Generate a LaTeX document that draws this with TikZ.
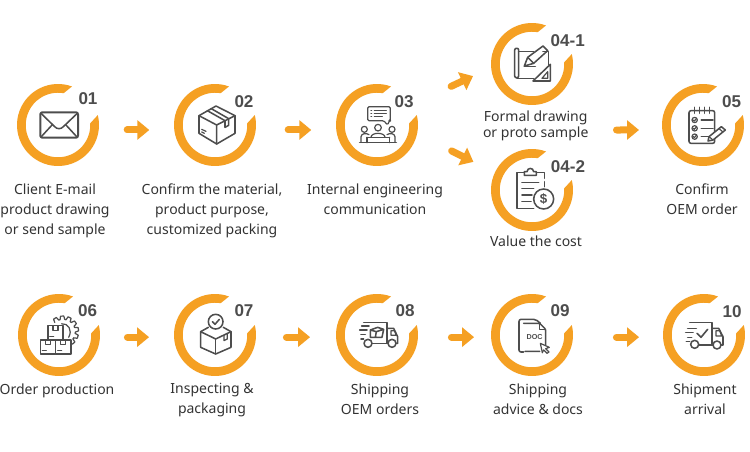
\documentclass[tikz,border=0pt]{standalone}
\usepackage{fontspec}
\setmainfont{Noto Sans}
\newfontfamily\numfont{Liberation Sans}[BoldFont={Liberation Sans Bold}]
\usetikzlibrary{arrows.meta,calc}
\definecolor{ringc}{HTML}{F5A023}
\definecolor{iconc}{HTML}{4D4D4D}
\definecolor{textc}{HTML}{333333}
\tikzset{
  ringnode/.style={circle,minimum size=61.5pt,inner sep=0pt,outer sep=0pt},
  numlabel/.style={font=\numfont\bfseries\fontsize{12.8}{13}\selectfont,text=iconc,inner sep=0pt},
  caption/.style={font=\fontsize{10.5}{15}\selectfont,text=textc,align=center,inner sep=0pt},
  captiontight/.style={font=\fontsize{10.5}{12}\selectfont,text=textc,align=center,inner sep=0pt},
  blockarrow/.style={draw=ringc,line width=5.25pt,line cap=round,-{Triangle[length=9pt,width=14.25pt,fill=ringc]}},
  icon/.style={draw=iconc,line width=1.15pt,line join=round,line cap=round},
  thinicon/.style={icon,line width=.9pt},
}
\newcommand{\ringat}[1]{%
  \fill[ringc,shift={(#1.center)}] (70:30.75pt) arc[start angle=70,end angle=374,radius=30.75pt]
    -- (363:24.2pt) arc[start angle=363,end angle=80,radius=24.2pt] -- cycle;}
\newcommand{\iconframe}[4]{%
  \begin{scope}[shift={(#1.center)},x=.25pt,y=-.25pt,shift={(-#2,-#3)}]#4\end{scope}}
\newcommand{\arw}[6]{%
  \draw[blockarrow,shorten <=#5*.75pt,shorten >=#6*.75pt] (#1.#3) -- (#2.#4);}
\begin{document}
\begin{tikzpicture}[x=.75pt,y=.75pt]
\useasboundingbox[fill=white] (0,0) rectangle (750,451);
% rings
\node[ringnode] (r01) at (58,326) {};
\node[ringnode] (r02) at (215,326) {};
\node[ringnode] (r03) at (377,326) {};
\node[ringnode] (r041) at (532,387) {};
\node[ringnode] (r042) at (532,261) {};
\node[ringnode] (r05) at (703,326) {};
\node[ringnode] (r06) at (59,116) {};
\node[ringnode] (r07) at (215,116) {};
\node[ringnode] (r08) at (377,116) {};
\node[ringnode] (r09) at (532,116) {};
\node[ringnode] (r10) at (704,116) {};
\foreach \n in {r01,r02,r03,r041,r042,r05,r06,r07,r08,r09,r10} {\ringat{\n}}
% numbers
\node[numlabel] (n01) at (88,352) {01};
\node[numlabel] (n02) at (244,349) {02};
\node[numlabel] (n03) at (404,349) {03};
\node[numlabel] (n041) at (567.7,410) {04-1};
\node[numlabel] (n042) at (568,284) {04-2};
\node[numlabel] (n05) at (731.7,349) {05};
\node[numlabel] (n06) at (87.7,140) {06};
\node[numlabel] (n07) at (244,140) {07};
\node[numlabel] (n08) at (405,140) {08};
\node[numlabel] (n09) at (560,140) {09};
\node[numlabel] (n10) at (732,139) {10};
% captions
\node[caption] (t01) at (55,240.5) {Client E-mail\\product drawing\\or send sample};
\node[caption] (t02) at (212,240.5) {Confirm the material,\\product purpose,\\customized packing};
\node[caption] (t03) at (375,252) {Internal engineering\\communication};
\node[captiontight] (t041) at (535.7,325) {Formal drawing\\or proto sample};
\node[caption] (t042) at (536,210) {Value the cost};
\node[caption] (t05) at (702,252) {Confirm\\OEM order};
\node[caption] (t06) at (57,60) {Order production};
\node[caption] (t07) at (212,50.5) {Inspecting \&\\packaging};
\node[caption] (t08) at (380,52) {Shipping\\OEM orders};
\node[caption] (t09) at (538,52) {Shipping\\advice \& docs};
\node[caption] (t10) at (705,52) {Shipment\\arrival};
% connectors
\coordinate (m04) at (616.5,321);
\arw{r01}{r02}{-7}{187}{28.5}{25}
\arw{r02}{r03}{-7}{187}{32.5}{25}
\arw{r03}{r041}{30}{185}{42.7}{20}
\arw{r03}{r042}{-12}{155}{38.7}{24}
\draw[blockarrow,shorten >=23.3*.75pt] (m04) -- (r05.187);
\arw{r06}{r07}{-3}{183}{27.5}{25}
\arw{r07}{r08}{-3}{183}{30.5}{26}
\arw{r08}{r09}{-3}{183}{33.5}{17}
\arw{r09}{r10}{-3}{183}{43.5}{24}
% icon 01
\iconframe{r01}{175}{165}{
  \draw[icon,line width=1.5pt,rounded corners=1.5pt] (122,127) rectangle (235,203);
  \draw[icon] (124,130) -- (165,170) .. controls (172,178) and (184,178) .. (191,170) -- (233,130);
  \draw[icon] (124,201) -- (158,164) (232,201) -- (198,164);
}
% icon 02
\iconframe{r02}{645}{165}{
  \draw[icon] (648,108) -- (705,137) -- (705,190) -- (650,222) -- (597,190) -- (597,137) -- cycle;
  \draw[icon] (597,137) -- (650,165) -- (705,137) (650,165) -- (650,222);
  \draw[icon] (622,122) -- (675,152) -- (675,172) -- (686,166) -- (686,146) -- (634,116);
  \draw[thinicon] (605,178) -- (618,184) (605,186) -- (613,190);
}
% icon 03
\iconframe{r03}{230}{375}{
  \draw[thinicon,rounded corners=1pt] (202,320) -- (270,320) -- (270,362) -- (267,362) -- (262,375) -- (250,362) -- (202,362) -- cycle;
  \draw[thinicon] (212,332) -- (214,332) (222,332) -- (258,332) (212,341) -- (214,341) (222,341) -- (258,341) (212,350) -- (214,350) (222,350) -- (246,350);
  \draw[thinicon] (192,388) circle (9) (233,383) circle (10) (275,388) circle (9);
  \draw[thinicon] (182,426) -- (182,410) .. controls (183,400) and (198,398) .. (206,404);
  \draw[thinicon] (284,426) -- (284,410) .. controls (283,400) and (268,398) .. (260,404);
  \draw[thinicon] (212,412) .. controls (212,396) and (254,396) .. (254,412);
  \draw[thinicon] (200,412) -- (268,412) (200,412) -- (200,428) (268,412) -- (268,428);
  \draw[icon] (178,428) -- (288,428);
}
% icon 04-1
\iconframe{r041}{695}{192}{
  \draw[icon] (655,150) .. controls (655,143) and (643,143) .. (643,150) -- (643,228) .. controls (643,235) and (655,235) .. (655,228) -- (655,150);
  \draw[icon] (655,155) -- (700,155) (728,155) -- (745,155) -- (745,195);
  \draw[icon] (650,235) -- (700,235);
  \draw[icon] (672,198) -- (682,172) -- (728,138) -- (742,152) -- (700,190) -- cycle;
  \draw[icon] (682,172) -- (700,190);
  \draw[icon] (672,200) -- (705,200);
  \draw[icon,fill=white] (698,243) -- (750,243) -- (750,193) -- cycle;
  \draw[thinicon] (725,235) -- (742,235) -- (742,215) -- cycle;
}
% icon 04-2
\iconframe{r042}{695}{570}{
  \draw[icon] (672,518) -- (650,518) -- (650,625) -- (700,625);
  \draw[icon] (708,518) -- (732,518) -- (732,535) (732,545) -- (732,560);
  \draw[icon] (672,526) -- (672,515) -- (680,515) .. controls (681,502) and (699,502) .. (700,515) -- (708,515) -- (708,526) -- cycle;
  \draw[icon] (665,548) -- (715,548) (665,566) -- (700,566) (665,585) -- (695,585) (665,604) -- (692,604);
  \draw[icon] (730,597) circle (30);
  \node[font=\numfont\bfseries\fontsize{10}{10}\selectfont,text=iconc,inner sep=0pt] (dollar) at (730,597) {\$};
}
% icon 05
\iconframe{r05}{310}{165}{
  \draw[icon,rounded corners=1.5pt] (268,122) rectangle (345,220);
  \foreach \x in {285,300,315,330} {\draw[icon] (\x,112) -- (\x,130);}
  \foreach \y in {150,175,200} {
    \draw[thinicon] (285,\y) circle (8);
    \draw[thinicon] (281,\y) -- (284,\y+3) -- (290,\y-4);
    \draw[icon,line width=1.2pt] (305,\y) -- (340,\y);
  }
  \draw[icon,fill=white] (325,213) -- (328,200) -- (365,170) -- (377,180) -- (340,210) -- cycle;
  \draw[thinicon] (328,200) -- (340,210) (358,176) -- (370,186);
}
% icon 06
\iconframe{r06}{178}{135}{
  \begin{scope}[shift={(190,125)}]
    \foreach \a in {-120,-92,-64,-36,-8,20,48} {
      \draw[thinicon] (\a-12:37) -- (\a-7:47) -- (\a+5:47) -- (\a+10:37) -- (\a+16:37);
    }
    \draw[thinicon] (-100:24) .. controls (-60:30) and (-10:30) .. (45:24);
  \end{scope}
  \draw[icon,fill=white] (145,107) rectangle (190,150);
  \draw[thinicon] (160,107) -- (160,122) -- (175,122) -- (175,107) (150,140) -- (162,140);
  \draw[icon,fill=white] (122,150) rectangle (168,192);
  \draw[thinicon] (137,150) -- (137,164) -- (152,164) -- (152,150) (128,182) -- (140,182);
  \draw[icon,fill=white] (168,150) rectangle (214,192);
  \draw[thinicon] (183,150) -- (183,164) -- (198,164) -- (198,150) (174,182) -- (186,182);
}
% icon 07
\iconframe{r07}{645}{135}{
  \draw[icon] (602,125) -- (647,147) -- (693,125) -- (693,172) -- (647,192) -- (602,172) -- cycle;
  \draw[icon] (647,147) -- (647,192);
  \draw[icon] (602,125) -- (625,112) (693,125) -- (670,112);
  \draw[thinicon] (672,136) -- (672,152) -- (682,147) -- (682,131);
  \draw[icon,fill=white] (647,95) circle (22);
  \draw[icon] (637,95) -- (645,103) -- (658,88);
}
% icon 08
\iconframe{r08}{170}{135}{
  \draw[icon] (130,97) -- (200,97) -- (200,160) -- (156,160);
  \draw[icon] (200,115) -- (220,115) -- (232,140) -- (232,160) -- (228,160) (202,160) -- (200,160);
  \draw[icon] (143,160) circle (12) (215,160) circle (12);
  \draw[icon] (118,120) -- (140,120) (124,108) -- (146,108) (122,133) -- (135,133) (122,147) -- (130,147);
  \draw[thinicon] (212,122) -- (222,122) -- (228,136) -- (212,136) -- cycle;
  \draw[icon] (150,120) -- (172,112) -- (190,118) -- (185,142) -- (150,142) -- cycle (150,120) -- (168,125) -- (190,118) (168,125) -- (165,142);
}
% icon 09
\iconframe{r09}{637}{135}{
  \draw[icon,rounded corners=1.5pt] (612,186) -- (598,186) -- (598,88) -- (648,88) -- (662,100);
  \draw[icon,fill=white,rounded corners=1pt] (612,100) -- (660,100) -- (678,118) -- (678,165) (664,184) -- (612,184) -- cycle;
  \draw[thinicon] (660,100) -- (660,118) -- (678,118);
  \node[font=\numfont\bfseries\fontsize{5.4}{6}\selectfont,text=iconc,inner sep=0pt] (doc) at (645,142) {DOC};
  \draw[thinicon,fill=white] (662,160) -- (689,172) -- (678,176) -- (688,186) -- (682,190) -- (672,180) -- (668,188) -- cycle;
}
% icon 10
\iconframe{r10}{311}{135}{
  \draw[icon] (268,97) -- (335,97) -- (335,165) -- (296,165);
  \draw[icon] (335,115) -- (355,115) -- (368,140) -- (368,165) -- (363,165) (338,165) -- (335,165);
  \draw[icon] (283,163) circle (12) (350,165) circle (12);
  \draw[icon] (262,115) -- (288,115) (256,128) -- (278,128) (262,142) -- (274,142) (258,155) -- (268,155);
  \draw[thinicon] (347,122) -- (358,122) -- (364,138) -- (347,138) -- cycle;
  \draw[icon,line width=1.2pt] (290,130) -- (302,142) -- (322,118);
}
\end{tikzpicture}
\end{document}
